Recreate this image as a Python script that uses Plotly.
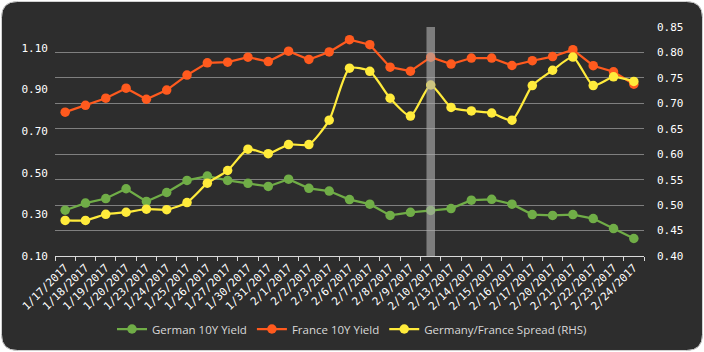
import plotly.graph_objects as go

dates = ["1/17/2017", "1/18/2017", "1/19/2017", "1/20/2017", "1/23/2017", "1/24/2017",
         "1/25/2017", "1/26/2017", "1/27/2017", "1/30/2017", "1/31/2017", "2/1/2017",
         "2/2/2017", "2/3/2017", "2/6/2017", "2/7/2017", "2/8/2017", "2/9/2017",
         "2/10/2017", "2/13/2017", "2/14/2017", "2/15/2017", "2/16/2017", "2/17/2017",
         "2/20/2017", "2/21/2017", "2/22/2017", "2/23/2017", "2/24/2017"]

german = [0.320, 0.354, 0.376, 0.423, 0.362, 0.405, 0.463, 0.484, 0.463, 0.449,
          0.434, 0.469, 0.425, 0.412, 0.371, 0.349, 0.295, 0.310, 0.319, 0.328,
          0.368, 0.372, 0.349, 0.299, 0.295, 0.299, 0.280, 0.232, 0.184]

france = [0.791, 0.824, 0.858, 0.906, 0.853, 0.897, 0.969, 1.028, 1.031, 1.055,
          1.034, 1.084, 1.044, 1.080, 1.139, 1.115, 1.007, 0.988, 1.055, 1.022,
          1.051, 1.051, 1.015, 1.038, 1.058, 1.091, 1.014, 0.985, 0.925]

spread = [0.470, 0.470, 0.482, 0.486, 0.492, 0.491, 0.505, 0.543, 0.568, 0.610,
          0.601, 0.619, 0.619, 0.667, 0.769, 0.763, 0.710, 0.675, 0.736, 0.692,
          0.685, 0.681, 0.667, 0.735, 0.765, 0.791, 0.735, 0.752, 0.743]

highlight_date = "2/10/2017"
left_ticks = [0.10, 0.30, 0.50, 0.70, 0.90, 1.10]

W, H = 704, 352
ML, MR, MT, MB = 55, 60, 27, 96
PW, PH = W - ML - MR, H - MT - MB


def px2paper(px, py):
    return (px - ML) / PW, (H - MB - py) / PH


def rounded_rect_path(x0, y0, x1, y1, r):
    pts = []
    cmds = [("M", x0 + r, y0), ("L", x1 - r, y0), ("Q", x1, y0, x1, y0 + r),
            ("L", x1, y1 - r), ("Q", x1, y1, x1 - r, y1), ("L", x0 + r, y1),
            ("Q", x0, y1, x0, y1 - r), ("L", x0, y0 + r), ("Q", x0, y0, x0 + r, y0)]
    for c in cmds:
        if c[0] == "Q":
            a = px2paper(c[1], c[2]); b = px2paper(c[3], c[4])
            pts.append(f"Q {a[0]:.5f},{a[1]:.5f} {b[0]:.5f},{b[1]:.5f}")
        else:
            a = px2paper(c[1], c[2])
            pts.append(f"{c[0]} {a[0]:.5f},{a[1]:.5f}")
    return " ".join(pts) + " Z"


GREEN = "#70AD47"
ORANGE = "#FF5A1E"
YELLOW = "#FFEB3B"

fig = go.Figure()
fig.add_trace(go.Scatter(x=dates, y=german, name="German 10Y Yield", mode="lines+markers",
                         line=dict(color=GREEN, width=2.25), marker=dict(size=9.5, color=GREEN)))
fig.add_trace(go.Scatter(x=dates, y=france, name="France 10Y Yield", mode="lines+markers",
                         line=dict(color=ORANGE, width=2.25), marker=dict(size=9.5, color=ORANGE)))
fig.add_trace(go.Scatter(x=dates, y=spread, name="Germany/France Spread (RHS)", mode="lines+markers",
                         yaxis="y2",
                         line=dict(color=YELLOW, width=2.25, shape="spline", smoothing=0.6),
                         marker=dict(size=9.5, color=YELLOW)))

hi = dates.index(highlight_date)
fig.add_shape(type="rect", xref="x", yref="paper", x0=hi - 0.21, x1=hi + 0.21, y0=0, y1=1,
              fillcolor="rgba(175,175,175,0.62)", line=dict(width=0), layer="above")

fig.add_shape(type="path", xref="paper", yref="paper",
              path=rounded_rect_path(1.5, 1.5, 702.5, 350.5, 16),
              fillcolor="#2d2d2d", line=dict(color="#d0d0d0", width=1), layer="below")

mono = dict(family="DejaVu Sans Mono, monospace", size=11, color="#ffffff")

fig.update_layout(
    template="none",
    width=W, height=H,
    margin=dict(l=ML, r=MR, t=MT, b=MB, autoexpand=False),
    paper_bgcolor="white", plot_bgcolor="rgba(0,0,0,0)",
    showlegend=True,
    legend=dict(orientation="h", x=0.5, xanchor="center", xref="container",
                y=(H - 329) / H, yanchor="middle", yref="container",
                font=dict(family="Open Sans", size=11.5, color="#d9d9d9"),
                bgcolor="rgba(0,0,0,0)", tracegroupgap=0),
    xaxis=dict(type="category", tickangle=-45, tickfont=mono, showgrid=False, automargin=False,
               showline=True, linecolor="#d9d9d9", linewidth=1, zeroline=False,
               ticks="outside", tickson="boundaries", ticklen=4, tickcolor="#d9d9d9",
               range=[-0.5, len(dates) - 0.5]),
    yaxis=dict(range=[0.10, 1.20], tickvals=left_ticks, tickformat=".2f", tickfont=mono,
               showgrid=False, zeroline=False, ticklabelstandoff=6, automargin=False,
               showline=False, ticks=""),
    yaxis2=dict(range=[0.40, 0.85], dtick=0.05, tick0=0.40, tickformat=".2f", tickfont=mono,
                overlaying="y", side="right", showgrid=True, gridcolor="#7f7f7f", gridwidth=1,
                zeroline=False, ticklabelstandoff=12, automargin=False, showline=False, ticks=""),
)

fig.write_html("out.html")
